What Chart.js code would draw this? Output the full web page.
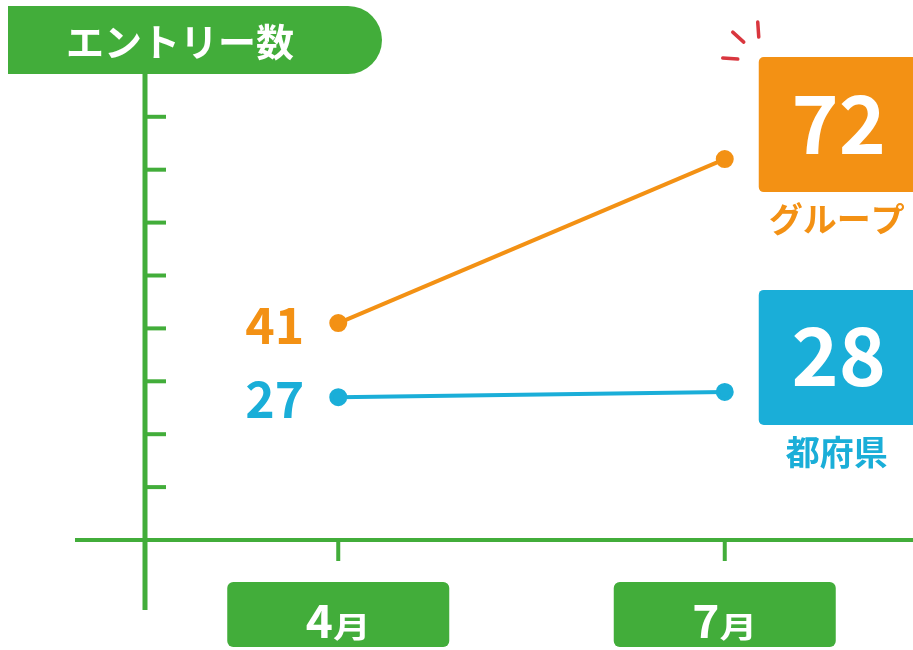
<!DOCTYPE html>
<html>
<head>
<meta charset="utf-8">
<script src="https://cdn.jsdelivr.net/npm/chart.js"></script>
<style>
  html, body { margin: 0; padding: 0; background: #fff; overflow: hidden; }
  #entryChart { display: block; }
</style>
</head>
<body>
<canvas id="entryChart" width="920" height="650"></canvas>
<script>
const months = ['4月', '7月'];
const groupValues = [41, 72];
const prefValues = [27, 28];
const yTicks = [10, 20, 30, 40, 50, 60, 70, 80];
const seriesNames = ['グループ', '都府県'];
const axisTitle = 'エントリー数';

const GREEN = '#42ad3a';
const ORANGE = '#f39114';
const BLUE = '#1aaed8';
const FONT = '"Noto Sans CJK JP", "Noto Sans", sans-serif';

function roundRect(ctx, x, y, w, h, r) {
  ctx.beginPath();
  ctx.moveTo(x + r, y);
  ctx.lineTo(x + w - r, y);
  ctx.arcTo(x + w, y, x + w, y + r, r);
  ctx.lineTo(x + w, y + h - r);
  ctx.arcTo(x + w, y + h, x + w - r, y + h, r);
  ctx.lineTo(x + r, y + h);
  ctx.arcTo(x, y + h, x, y + h - r, r);
  ctx.lineTo(x, y + r);
  ctx.arcTo(x, y, x + r, y, r);
  ctx.closePath();
}

// axes, ticks, banner and month boxes
const frame = {
  id: 'frame',
  beforeDatasetsDraw(chart) {
    const { ctx, chartArea, scales: { x, y } } = chart;
    const zeroY = y.getPixelForValue(0);
    ctx.save();

    // banner
    ctx.fillStyle = GREEN;
    ctx.beginPath();
    ctx.moveTo(8, 6);
    ctx.lineTo(348, 6);
    ctx.arc(348, 40, 34, -Math.PI / 2, Math.PI / 2);
    ctx.lineTo(8, 74);
    ctx.closePath();
    ctx.fill();
    ctx.fillStyle = '#fff';
    ctx.font = 'bold 38px ' + FONT;
    ctx.textAlign = 'center';
    ctx.textBaseline = 'middle';
    ctx.fillText(axisTitle, 180, 42);

    // axes
    ctx.strokeStyle = GREEN;
    ctx.lineCap = 'butt';
    ctx.lineWidth = 5;
    ctx.beginPath();
    ctx.moveTo(chartArea.left, 72);
    ctx.lineTo(chartArea.left, 610);
    ctx.stroke();
    ctx.lineWidth = 4;
    ctx.beginPath();
    ctx.moveTo(75, zeroY);
    ctx.lineTo(chart.width, zeroY);
    ctx.stroke();

    yTicks.forEach((v) => {
      const py = y.getPixelForValue(v);
      ctx.beginPath();
      ctx.moveTo(chartArea.left, py);
      ctx.lineTo(chartArea.left + 21, py);
      ctx.stroke();
    });

    months.forEach((m, i) => {
      const px = x.getPixelForValue(i);
      ctx.lineWidth = 4;
      ctx.beginPath();
      ctx.moveTo(px, zeroY);
      ctx.lineTo(px, zeroY + 21);
      ctx.stroke();

      ctx.fillStyle = GREEN;
      roundRect(ctx, px - 111, 582, 222, 65, 6);
      ctx.fill();

      // number big, 月 smaller and a bit wide
      const num = m.replace('月', '');
      const stretch = 1.3;
      ctx.fillStyle = '#fff';
      ctx.textBaseline = 'alphabetic';
      ctx.textAlign = 'left';
      ctx.font = 'bold 46px ' + FONT;
      const w1 = ctx.measureText(num).width;
      ctx.font = 'bold 29px ' + FONT;
      const w2 = ctx.measureText('月').width * stretch;
      const start = px - (w1 + w2) / 2;
      ctx.font = 'bold 46px ' + FONT;
      ctx.fillText(num, start, 638);
      ctx.save();
      ctx.translate(start + w1, 638);
      ctx.scale(stretch, 1);
      ctx.font = 'bold 29px ' + FONT;
      ctx.fillText('月', 0, 0);
      ctx.restore();
    });
    ctx.restore();
  }
};

// value labels at both ends
const labels = {
  id: 'labels',
  afterDatasetsDraw(chart) {
    const { ctx } = chart;
    ctx.save();
    chart.data.datasets.forEach((ds, di) => {
      const pts = chart.getDatasetMeta(di).data;
      const first = pts[0];
      const last = pts[pts.length - 1];

      ctx.fillStyle = ds.borderColor;
      ctx.font = 'bold 50px ' + FONT;
      ctx.textAlign = 'right';
      ctx.textBaseline = 'middle';
      ctx.fillText(String(ds.data[0]), first.x - 34, first.y + 2);

      const bx = last.x + 34;
      const by = last.y - 102;
      ctx.fillStyle = ds.borderColor;
      roundRect(ctx, bx, by, chart.width - bx + 10, 135, 5);
      ctx.fill();
      ctx.fillStyle = '#fff';
      ctx.font = 'bold 80px ' + FONT;
      ctx.textAlign = 'center';
      ctx.fillText(String(ds.data[ds.data.length - 1]), bx + 80, by + 66);

      ctx.fillStyle = ds.borderColor;
      ctx.font = 'bold 34px ' + FONT;
      ctx.fillText(ds.label, bx + 78, by + 162);
    });

    // sparkle above the top box
    const top = chart.getDatasetMeta(0).data[1];
    ctx.strokeStyle = '#d9363e';
    ctx.lineWidth = 3.5;
    ctx.lineCap = 'round';
    const sx = top.x, sy = top.y;
    [[-2, -101, 13, -100], [8, -127, 19, -117], [33, -137, 34, -122]].forEach((s) => {
      ctx.beginPath();
      ctx.moveTo(sx + s[0], sy + s[1]);
      ctx.lineTo(sx + s[2], sy + s[3]);
      ctx.stroke();
    });
    ctx.restore();
  }
};

new Chart(document.getElementById('entryChart'), {
  type: 'line',
  data: {
    labels: months,
    datasets: [
      {
        label: seriesNames[0],
        data: groupValues,
        borderColor: ORANGE,
        backgroundColor: ORANGE,
        borderWidth: 4,
        pointRadius: 7,
        pointHoverRadius: 7,
        tension: 0
      },
      {
        label: seriesNames[1],
        data: prefValues,
        borderColor: BLUE,
        backgroundColor: BLUE,
        borderWidth: 4,
        pointRadius: 7,
        pointHoverRadius: 7,
        tension: 0
      }
    ]
  },
  options: {
    responsive: false,
    animation: false,
    layout: { autoPadding: false, padding: { left: 145, right: 2, top: 75, bottom: 110 } },
    plugins: {
      legend: { display: false },
      tooltip: { enabled: false },
      title: { display: false }
    },
    scales: {
      x: { display: false, offset: true },
      y: { display: false, min: 0, max: 87.9 }
    }
  },
  plugins: [frame, labels]
});
</script>
</body>
</html>
